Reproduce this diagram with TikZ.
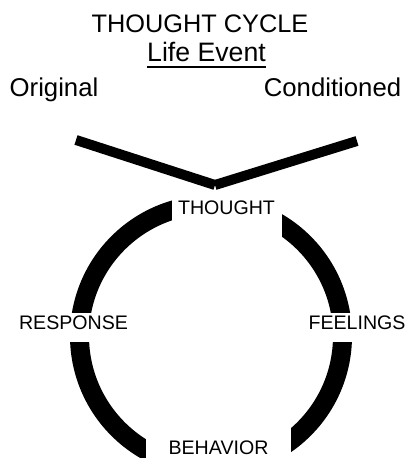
\documentclass[tikz,border=0pt]{standalone}
\usepackage{fontspec}
\setmainfont{Liberation Sans}
\usetikzlibrary{calc}

\begin{document}
\begin{tikzpicture}[x=7.5pt, y=7.5pt,
    heading/.style={inner sep=0pt, anchor=base},
    stage/.style={fill=white, inner sep=0pt, anchor=base, font=\fontsize{14.7}{17}\selectfont}]
    \useasboundingbox (0,0) rectangle (40.9,45.8);

    \node[heading, font=\fontsize{19}{22}\selectfont] (title) at (20.0,42.5) {THOUGHT CYCLE};
    \node[heading, font=\fontsize{20}{24}\selectfont] (event) at (20.65,39.6) {Life Event};
    \draw[line width=1.5pt] ([yshift=-3.75pt]event.base west) -- ([yshift=-3.75pt]event.base east);

    \node[heading, font=\fontsize{19.3}{23}\selectfont] (orig) at (5.4,36.1) {Original};
    \node[heading, font=\fontsize{19.3}{23}\selectfont] (cond) at (33.25,36.1) {Conditioned};

    % both routes lead down into the thought
    \coordinate (origstart) at (7.6,31.8);
    \coordinate (condstart) at (35.7,31.7);
    \coordinate (tip) at (21.5,27.3);
    \draw[line width=7.5pt] (origstart) -- (tip);
    \draw[line width=7.5pt] (condstart) -- (tip);

    % the ring, cut open by the white label boxes
    \draw[line width=14.25pt] (21.1,12.2) circle (13.15);

    \node[stage, minimum width=82.5pt, text height=16.5pt, text depth=17.25pt] (thought) at (22.65,24.3) {THOUGHT};
    \node[stage, inner xsep=3pt, text height=12.75pt, text depth=9pt] (response) at (7.35,12.8) {RESPONSE};
    \node[stage, inner xsep=3pt, text height=12.75pt, text depth=9pt] (feelings) at (35.7,12.8) {FEELINGS};
    \node[stage, minimum width=108.75pt, text height=22.5pt, text depth=7.5pt] (behavior) at (21.85,0.3) {BEHAVIOR};
\end{tikzpicture}
\end{document}
